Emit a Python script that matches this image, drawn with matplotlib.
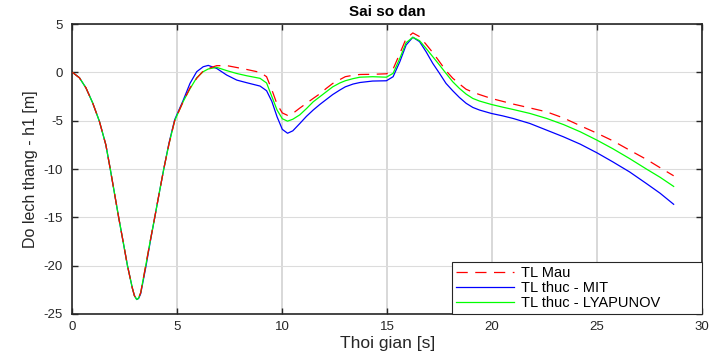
import matplotlib
matplotlib.use("Agg")
import matplotlib.pyplot as plt

plt.rcParams['font.family'] = ['Liberation Sans', 'DejaVu Sans']
plt.rcParams['axes.unicode_minus'] = False

title = "Sai so dan"
xlabel = "Thoi gian [s]"
ylabel = "Do lech thang - h1 [m]"
legend_labels = ["TL Mau", "TL thuc - MIT", "TL thuc - LYAPUNOV"]
xticks = [0, 5, 10, 15, 20, 25, 30]
yticks = [-25, -20, -15, -10, -5, 0, 5]

t = [0, 0.33, 0.64, 0.96, 1.28, 1.59, 1.8, 2.0, 2.2, 2.42, 2.62, 2.85, 2.95, 3.06, 3.15,
     3.25, 3.49, 3.7, 3.92, 4.15, 4.35, 4.6, 4.87, 5.28, 5.6, 5.92, 6.23, 6.47, 6.87, 7.35,
     7.83, 8.3, 8.94, 9.25, 9.5, 9.75, 10.0, 10.25, 10.5, 10.83, 11.15, 11.47, 11.8,
     12.1, 12.4, 12.74, 13.0, 13.37, 13.7, 14.3, 14.96, 15.28, 15.6, 15.9, 16.22,
     16.54, 16.85, 17.17, 17.49, 17.8, 18.12, 18.44, 18.76, 19.08, 19.4, 19.96, 20.5,
     21.0, 21.8, 22.6, 23.4, 24.2, 25.0, 25.75, 26.55, 27.35, 28.0, 28.65]

tl_mau = [0, -0.56, -1.6, -3.15, -5.05, -7.5, -10.0, -12.5, -15.0, -17.6, -20.0, -22.3,
          -23.1, -23.5, -23.35, -22.8, -20.0, -17.5, -15.0, -12.3, -10.0, -7.4, -5.0, -3.0,
          -1.6, -0.62, 0.15, 0.4, 0.69, 0.7, 0.5, 0.3, 0.0, -0.45, -1.8, -3.3, -4.2, -4.45,
          -4.25, -3.7, -3.2, -2.7, -2.2, -1.65, -1.15, -0.75, -0.45, -0.3, -0.22, -0.2,
          -0.15, 0.35, 1.95, 3.5, 4.08, 3.7, 2.9, 2.05, 1.1, 0.17, -0.6, -1.2, -1.75,
          -2.05, -2.3, -2.7, -3.0, -3.28, -3.68, -4.09, -4.72, -5.52, -6.3, -7.08, -8.05,
          -9.0, -9.86, -10.7]

tl_mit = [0, -0.56, -1.6, -3.15, -5.05, -7.5, -10.0, -12.5, -15.0, -17.6, -20.0, -22.3,
          -23.1, -23.5, -23.4, -22.9, -20.2, -17.6, -15.0, -12.3, -10.0, -7.3, -4.9, -2.87,
          -1.14, 0.07, 0.58, 0.72, 0.41, -0.28, -0.8, -1.07, -1.42, -1.9, -3.0, -4.6, -5.9,
          -6.3, -6.05, -5.3, -4.55, -3.9, -3.3, -2.8, -2.3, -1.83, -1.5, -1.21, -1.05,
          -0.9, -0.87, -0.45, 1.1, 2.83, 3.63, 3.18, 2.14, 0.93, -0.1, -1.14, -1.9, -2.6,
          -3.2, -3.63, -3.9, -4.25, -4.5, -4.77, -5.29, -5.98, -6.67, -7.43, -8.33, -9.26,
          -10.3, -11.5, -12.5, -13.65]

tl_lyap = [0, -0.56, -1.6, -3.15, -5.05, -7.5, -10.0, -12.5, -15.0, -17.6, -20.0, -22.3,
           -23.1, -23.5, -23.35, -22.8, -20.0, -17.5, -15.0, -12.3, -10.0, -7.4, -5.0, -3.0,
           -1.7, -0.55, 0.07, 0.35, 0.52, 0.18, -0.12, -0.35, -0.62, -1.1, -2.5, -3.9, -4.8,
           -5.05, -4.85, -4.4, -3.75, -3.05, -2.5, -2.0, -1.5, -1.1, -0.87, -0.65, -0.5,
           -0.45, -0.5, -0.1, 1.45, 3.07, 3.63, 3.28, 2.48, 1.62, 0.76, -0.1, -0.97, -1.66,
           -2.25, -2.7, -2.97, -3.32, -3.6, -3.84, -4.25, -4.77, -5.4, -6.15, -7.02, -7.9,
           -8.92, -10.0, -10.85, -11.8]

fig = plt.figure(figsize=(7.1, 3.56), dpi=100)
ax = fig.add_axes([0.1021, 0.118, 0.8866, 0.8145])

dark = (0.15, 0.15, 0.15)
ax.plot(t, tl_mau, color=(1, 0, 0), lw=0.9, dashes=(9, 6), label=legend_labels[0], zorder=3)
ax.plot(t, tl_mit, color=(0, 0, 1), lw=0.9, label=legend_labels[1], zorder=2)
ax.plot(t, tl_lyap, color=(0, 1, 0), lw=0.9, label=legend_labels[2], zorder=2)

ax.set_xlim(0, 30)
ax.set_ylim(-25, 5)
ax.set_xticks(xticks)
ax.set_yticks(yticks)
ax.xaxis.grid(True, color='#d6d6d6', lw=1.3)
ax.yaxis.grid(True, color='#dcdcdc', lw=0.8)
ax.set_axisbelow(True)
ax.tick_params(direction='in', length=4, width=1.0, color=dark, labelcolor=dark,
               labelsize=9.5, top=True, right=True)
ax.tick_params(axis='y', pad=7)
ax.tick_params(axis='x', pad=5)
for s in ax.spines.values():
    s.set_color(dark)
    s.set_linewidth(1.2)

ax.set_title(title, fontsize=11, fontweight='bold', pad=6)
ax.set_xlabel(xlabel, fontsize=12.5, color=dark, labelpad=2)
ax.set_ylabel(ylabel, fontsize=11.5, color=dark, labelpad=4)

leg = ax.legend(loc='lower left', bbox_to_anchor=(0.603, 0.0, 0.397, 0.155), mode='expand',
                fontsize=10.5, frameon=True, fancybox=False,
                framealpha=1, edgecolor=dark, borderaxespad=0, handlelength=4.0,
                handletextpad=0.5, labelspacing=0.08, borderpad=0.25)
leg.get_frame().set_linewidth(0.8)

fig.savefig("out.png", dpi=100)
